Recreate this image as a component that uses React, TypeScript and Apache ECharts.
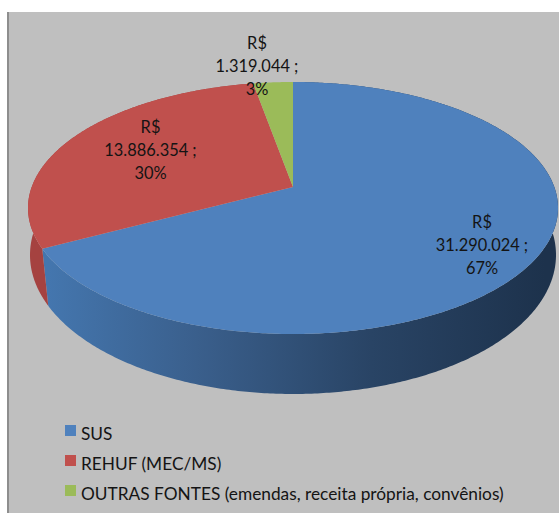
import React, { useEffect, useRef } from "react";
import * as echarts from "echarts";

const categories = ["SUS", "REHUF (MEC/MS)", "OUTRAS FONTES (emendas, receita própria, convênios)"];
const values = [31290024, 13886354, 1319044];
const topColors = ["#4F81BD", "#C0504D", "#9BBB59"];
const labelCentres = [[482, 244], [150.5, 149.5], [257, 65]];
const blueSideStops = [
  { offset: 0, color: "#4476AE" },
  { offset: 0.3, color: "#3A5F8C" },
  { offset: 0.65, color: "#294465" },
  { offset: 1, color: "#1D324C" },
];
const redSideStops = [
  { offset: 0, color: "#A54240" },
  { offset: 1, color: "#9E3F3D" },
];
const greenSideStops = [
  { offset: 0, color: "#7D9848" },
  { offset: 1, color: "#7D9848" },
];
const sideStops = [blueSideStops, redSideStops, greenSideStops];

// Perspective projection of the pie's upper and lower rims.
const CX = 293;
const upperRim = { a: 261.3, b: 122.5, k: 1 / 6, y0: 187 };
const lowerRim = { a: 261.1, b: 137, k: 0.12, y0: 238.3 };

const total = values.reduce((s, v) => s + v, 0);

function project(rim: typeof upperRim, t: number, r = 1) {
  const X = r * Math.sin(t);
  const Y = r * Math.cos(t);
  const w = 1 + rim.k * Y;
  return [CX + (rim.a * X) / w, rim.y0 - (rim.b * Y) / w];
}

function arc(rim: typeof upperRim, t0: number, t1: number) {
  const n = Math.max(2, Math.ceil(Math.abs(t1 - t0) / 0.01));
  const pts: number[][] = [];
  for (let i = 0; i <= n; i++) pts.push(project(rim, t0 + ((t1 - t0) * i) / n));
  return pts;
}

function formatValue(v: number) {
  return String(v).replace(/\B(?=(\d{3})+$)/g, ".");
}

function sliceSeries(index: number) {
  const before = values.slice(0, index).reduce((s, v) => s + v, 0);
  return {
    type: "custom",
    name: categories[index],
    coordinateSystem: "none",
    silent: true,
    itemStyle: { color: topColors[index] },
    data: [[values[index]]],
    renderItem: (_p: unknown, api: any) => {
      const v = api.value(0) as number;
      const t0 = (before / total) * Math.PI * 2;
      const t1 = ((before + v) / total) * Math.PI * 2;
      const side = arc(upperRim, t0, t1).concat(arc(lowerRim, t1, t0));
      const top = [project(upperRim, 0, 0)].concat(arc(upperRim, t0, t1));
      const pct = Math.round((v / total) * 100);
      // A wall that lies wholly on the far side of the pie cannot be seen.
      const wallVisible = Math.min(Math.cos(t0), Math.cos(t1)) < 0.5;
      const wall = wallVisible
        ? [
            {
              type: "polygon",
              shape: { points: side },
              style: {
                fill: new echarts.graphic.LinearGradient(48, 0, 545, 0, sideStops[index], true),
              },
            },
          ]
        : [];
      return {
        type: "group",
        children: [
          ...wall,
          { type: "polygon", shape: { points: top }, style: { fill: topColors[index] } },
          {
            type: "text",
            style: {
              x: labelCentres[index][0],
              y: labelCentres[index][1],
              text: `R$\n${formatValue(v)} ;\n${pct}%`,
              fontFamily: "Lato",
              fontSize: 16.4,
              lineHeight: 23,
              align: "center",
              verticalAlign: "middle",
              fill: "#141414",
            },
          },
        ],
      };
    },
  };
}

export default function App() {
  const ref = useRef<HTMLDivElement>(null);
  useEffect(() => {
    const chart = echarts.init(ref.current!, undefined, { renderer: "svg" });
    chart.setOption({
      animation: false,
      backgroundColor: "#FFFFFF",
      graphic: [
        { type: "rect", z: -1, shape: { x: 8, y: 12, width: 551, height: 501 }, style: { fill: "#BFBFBF" } },
        { type: "rect", z: -1, shape: { x: 7, y: 12, width: 2, height: 501 }, style: { fill: "#8E8E8E" } },
      ],
      legend: {
        orient: "vertical",
        left: 60,
        top: 420,
        itemWidth: 11,
        itemHeight: 11,
        itemGap: 13,
        icon: "rect",
        selectedMode: false,
        data: categories,
        formatter: (name: string) => `{t|${name}}`,
        textStyle: {
          rich: { t: { fontFamily: "Lato", fontSize: 17.3, color: "#141414", padding: [6, 0, 0, 0] } },
        },
      },
      series: values.map((_, i) => sliceSeries(i)),
    });
    return () => chart.dispose();
  }, []);
  return <div ref={ref} style={{ position: "fixed", left: 0, top: 0, width: 559, height: 513 }} />;
}
